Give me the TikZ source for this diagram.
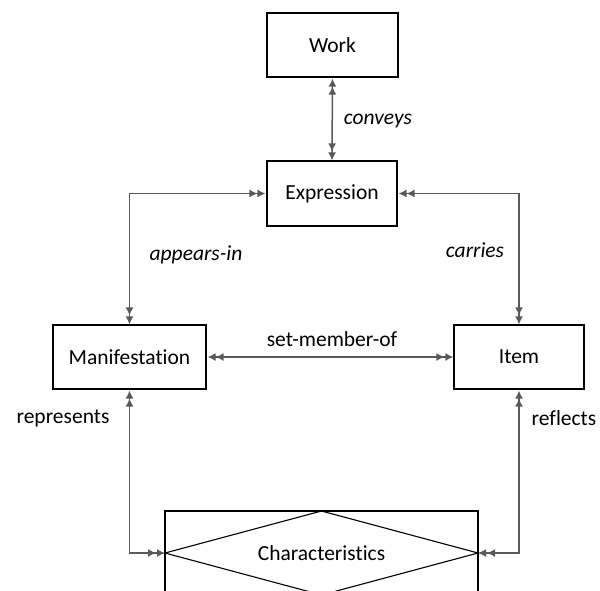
\documentclass[tikz,border=0pt]{standalone}
\usepackage{fontspec}
\setmainfont{Carlito}[Ligatures={NoCommon,NoRequired,NoContextual}]
\usetikzlibrary{arrows.meta}
\begin{document}
\begin{tikzpicture}[x=1pt,y=-1pt,
  box/.style={draw=black,line width=1.1pt,inner sep=0pt,font=\fontsize{21.5}{25}\selectfont},
  lbl/.style={inner sep=0pt,font=\fontsize{21.5}{25}\selectfont},
  ilbl/.style={lbl,font=\fontsize{21.5}{25}\selectfont\itshape},
  tip/.style={},
  conn/.style={draw=black!65,line width=1.5pt,
    {Latex[length=8pt,width=8pt,sep=1pt]Latex[length=8pt,width=8pt]}-{Latex[length=8pt,width=8pt,sep=1pt]Latex[length=8pt,width=8pt]}}
]
\clip (0,0) rectangle (600,590);
\useasboundingbox (0,0) rectangle (600,590);
\node[box,minimum width=131,minimum height=64] (work) at (332.5,45) {Work};
\node[box,minimum width=130,minimum height=65] (expr) at (332,193.5) {Expression};
\node[box,minimum width=153,minimum height=64] (man) at (129.5,357) {Manifestation};
\node[box,minimum width=130,minimum height=64] (item) at (519,357) {Item};
\node[box,minimum width=313,minimum height=110] (charbox) at (321.5,566) {};
\coordinate (cl) at (165,553);
\coordinate (cr) at (478,553);
\coordinate (ct) at (321.5,511);
\coordinate (cb) at (321.5,595);
\draw[line width=1.1pt,line join=miter] (cl) -- (ct) -- (cr) -- (cb) -- cycle;
\node[lbl] (char) at (321.5,553) {Characteristics};

\path[conn] (work.south) -- (expr.north);
\path[conn] (expr.west) -| (man.north);
\path[conn] (expr.east) -| (item.north);
\path[conn] (man.east) -- (item.west);
\path[conn] (man.south) |- (cl);
\path[conn] (item.south) |- (cr);

\node[ilbl] (lconv) at (378,121) {conveys};
\node[ilbl] (lapp) at (196,255) {appears-in};
\node[ilbl] (lcar) at (475,250) {carries};
\node[lbl] (lset) at (332,339) {set-member-of};
\node[lbl] (lrep) at (63,418) {represents};
\node[lbl] (lref) at (564,418) {reflects};
\end{tikzpicture}
\end{document}
